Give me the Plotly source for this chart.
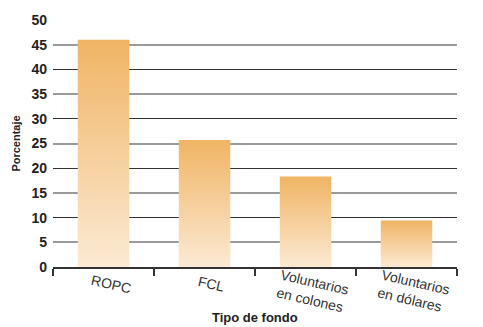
import plotly.graph_objects as go

# Pension fund types and their share (%)
categories = ["ROPC", "FCL", "Voluntarios<br>en colones", "Voluntarios<br>en dólares"]
values = [46.0, 25.7, 18.3, 9.4]

y_major = [0, 10, 20, 30, 40, 50]
y_minor = [5, 15, 25, 35, 45]

BAR_TOP = "#F0B464"
BAR_BOTTOM = "#FCEAD4"
HALF_WIDTH = 0.255

fig = go.Figure()

# Invisible markers on the secondary y axis so that its grid and labels are drawn
fig.add_trace(go.Scatter(
    x=list(range(len(categories))),
    y=values,
    yaxis="y2",
    mode="markers",
    marker=dict(opacity=0),
    hoverinfo="skip",
    showlegend=False,
))

# Each bar is a filled rectangle with its own vertical gradient
for i, (cat, v) in enumerate(zip(categories, values)):
    fig.add_trace(go.Scatter(
        x=[i - HALF_WIDTH, i + HALF_WIDTH, i + HALF_WIDTH, i - HALF_WIDTH, i - HALF_WIDTH],
        y=[0, 0, v, v, 0],
        mode="lines",
        line=dict(width=0),
        fill="toself",
        fillgradient=dict(
            type="vertical",
            colorscale=[[0, BAR_BOTTOM], [1, BAR_TOP]],
        ),
        hoverinfo="text",
        text=f"{cat.replace('<br>', ' ')}: {v}%",
        showlegend=False,
    ))

label_font = dict(family="Liberation Sans", size=14, color="#222222", weight="bold")

boundaries = [i - 0.5 for i in range(len(categories) + 1)]

fig.update_layout(
    width=483,
    height=327,
    margin=dict(l=53, r=26, t=18, b=60),
    paper_bgcolor="white",
    plot_bgcolor="white",
    showlegend=False,
    xaxis=dict(
        range=[-0.5, len(categories) - 0.5],
        tickmode="array",
        tickvals=boundaries,
        showticklabels=False,
        ticks="outside",
        ticklen=7,
        tickwidth=1.5,
        tickcolor="#333333",
        showgrid=False,
        zeroline=False,
        showline=True,
        linecolor="#333333",
        linewidth=1.5,
    ),
    yaxis=dict(
        range=[0, 50],
        tickmode="array",
        tickvals=y_major,
        tickfont=label_font,
        ticks="",
        ticklabelstandoff=5,
        showgrid=True,
        gridcolor="#333333",
        gridwidth=1.2,
        zeroline=False,
        showline=False,
        title=dict(
            text="Porcentaje",
            font=dict(family="Liberation Sans", size=11, color="#222222", weight="bold"),
            standoff=8,
        ),
    ),
    # Intermediate (5, 15, ...) gridlines and their labels
    yaxis2=dict(
        overlaying="y",
        anchor="x",
        side="left",
        range=[0, 50],
        tickmode="array",
        tickvals=y_minor,
        tickfont=label_font,
        ticks="",
        ticklabelstandoff=5,
        showgrid=True,
        gridcolor="#9a9a9a",
        gridwidth=2.4,
        zeroline=False,
        showline=False,
    ),
)

# Category labels, tilted below each bar
for i, cat in enumerate(categories):
    n_lines = cat.count("<br>") + 1
    fig.add_annotation(
        x=i, xref="x",
        y=-0.068 - 0.030 * (n_lines - 1), yref="paper",
        text=cat,
        showarrow=False,
        textangle=13,
        xanchor="center",
        yanchor="middle",
        xshift=7,
        align="left",
        font=dict(family="Liberation Sans", size=14, color="#333333"),
    )

# Axis title below the category labels
fig.add_annotation(
    x=0.5, xref="paper",
    y=-0.205, yref="paper",
    text="Tipo de fondo",
    showarrow=False,
    xanchor="center",
    yanchor="middle",
    font=dict(family="Liberation Sans", size=13, color="#222222", weight="bold"),
)

fig.write_html("out.html")
